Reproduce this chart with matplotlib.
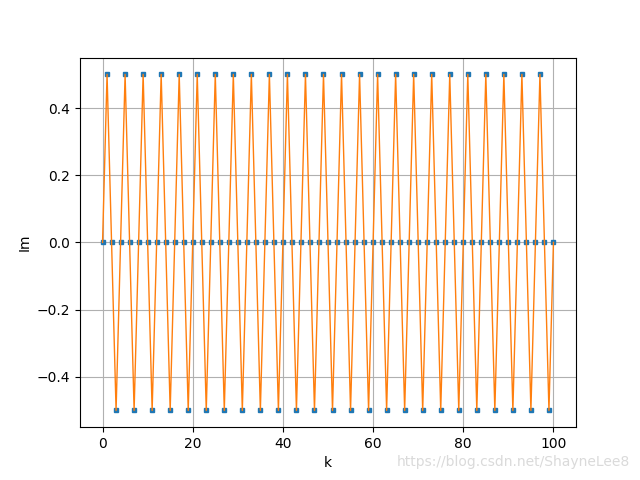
import matplotlib
matplotlib.use("Agg")
import matplotlib.pyplot as plt

k = list(range(101))
im = [0.0, 0.5, 0.0, -0.5] * 25 + [0.0]

fig, ax = plt.subplots(figsize=(6.4, 4.8), dpi=100)
ax.plot(k, im, 's', color='C0', markersize=3.5)
ax.plot(k, im, '-', color='C1', linewidth=1)
ax.set_xlabel('k')
ax.set_ylabel('Im')
ax.grid(True)
fig.text(0.985, 0.037, 'https://blog.csdn.net/ShayneLee8', ha='right', va='center',
         color='#dadada', fontsize=10)
fig.savefig('out.png')
